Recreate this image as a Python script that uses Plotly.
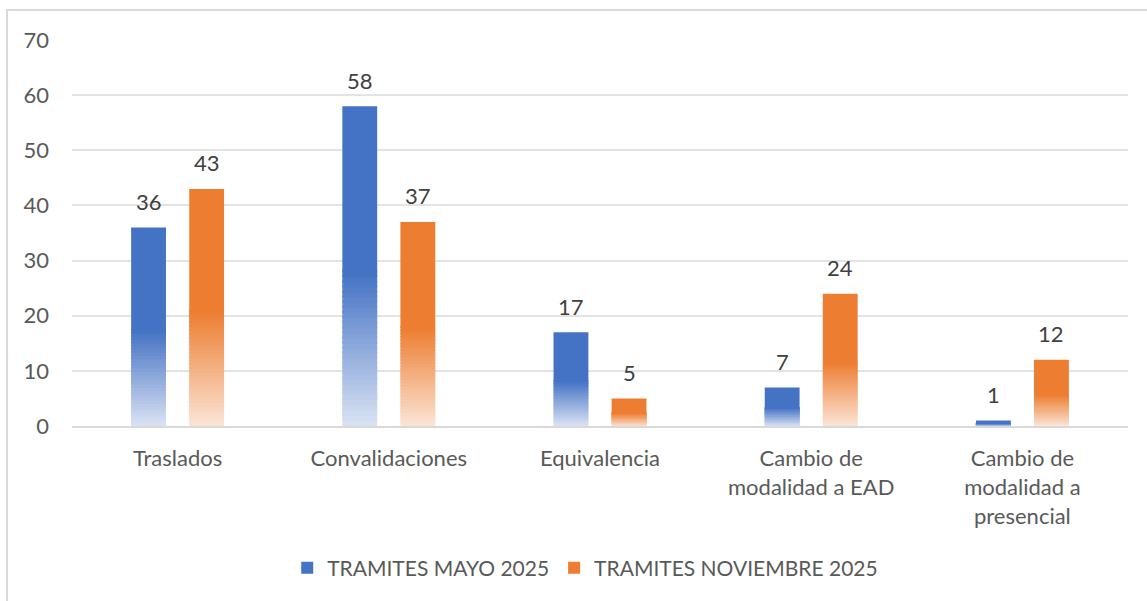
import plotly.graph_objects as go

categorias = [
    "Traslados",
    "Convalidaciones",
    "Equivalencia",
    "Cambio de<br>modalidad a EAD",
    "Cambio de<br>modalidad a<br>presencial",
]
tramites_mayo = [36, 58, 17, 7, 1]
tramites_noviembre = [43, 37, 5, 24, 12]

series = [
    ("TRAMITES MAYO 2025", tramites_mayo, (68, 114, 196), (218, 227, 243), "mayo", -29),
    ("TRAMITES NOVIEMBRE 2025", tramites_noviembre, (237, 125, 49), (251, 229, 214), "nov", 29),
]

FONT = "Lato"
N_STEPS = 30      # pasos del degradado
FADE = 0.48       # fraccion inferior de la barra que se degrada


def mezcla(c1, c2, t):
    return "rgb({},{},{})".format(*[round(a + (b - a) * t) for a, b in zip(c1, c2)])


fig = go.Figure()

for nombre, valores, solido, claro, grupo, desplaz in series:
    paso = [v * FADE / N_STEPS for v in valores]
    # parte inferior con degradado (de claro a solido); cada tramo se solapa
    # un poco con el siguiente para evitar rayas blancas
    for i in range(N_STEPS):
        t = (i + 0.5) / N_STEPS
        fig.add_trace(go.Bar(
            x=categorias,
            y=[p * 1.6 for p in paso],
            base=[p * i for p in paso],
            offsetgroup=grupo,
            marker=dict(color=mezcla(claro, solido, t), line=dict(width=0)),
            showlegend=False,
            hoverinfo="skip",
        ))
    # parte superior solida
    fig.add_trace(go.Bar(
        x=categorias,
        y=[v * (1 - FADE) for v in valores],
        base=[v * FADE for v in valores],
        offsetgroup=grupo,
        name=nombre,
        marker=dict(color=mezcla(claro, solido, 1), line=dict(width=0)),
        hoverinfo="x+text",
        text=[str(v) for v in valores],
        textposition="none",
    ))
    # etiquetas de datos
    for cat, v in zip(categorias, valores):
        fig.add_annotation(
            x=cat, y=v, text=str(v), showarrow=False,
            xshift=desplaz, yshift=26, yanchor="middle",
            font=dict(family=FONT, size=22, color="#404040"),
        )

fig.update_layout(
    width=1147,
    height=601,
    barmode="group",
    bargap=0.45,
    bargroupgap=0.4,
    paper_bgcolor="white",
    plot_bgcolor="white",
    font=dict(family=FONT, size=22, color="#595959"),
    margin=dict(l=72, r=19, t=40, b=175),
    legend=dict(
        orientation="h",
        x=0.486, xanchor="center",
        y=-0.368, yanchor="middle",
        font=dict(family=FONT, size=21, color="#595959"),
        itemwidth=30,
        tracegroupgap=40,
    ),
    shapes=[dict(
        type="rect", xref="paper", yref="paper",
        x0=-0.0615, x1=1.02, y0=-0.46, y1=1.0777,
        line=dict(color="#d9d9d9", width=2),
    )],
)

fig.update_yaxes(
    range=[0, 70],
    dtick=10,
    showgrid=True,
    gridcolor="#e3e3e3",
    gridwidth=1.5,
    zeroline=False,
    showline=False,
    ticks="",
    ticklabelstandoff=22,
    tickfont=dict(family=FONT, size=22, color="#595959"),
)
fig.update_xaxes(
    showline=True,
    linecolor="#d9d9d9",
    linewidth=2,
    ticks="",
    ticklabelstandoff=12,
    tickfont=dict(family=FONT, size=22, color="#595959"),
)

fig.write_html(
    "out.html",
    config={"displayModeBar": False},
    post_script="document.body.style.margin='0';",
)
